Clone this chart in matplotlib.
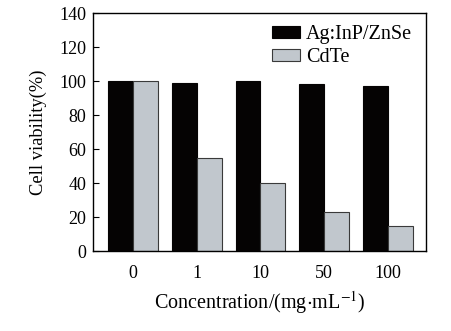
import matplotlib
matplotlib.use("Agg")
import matplotlib.pyplot as plt
import numpy as np

plt.rcParams['font.family'] = ['Liberation Serif', 'DejaVu Serif']
plt.rcParams['mathtext.fontset'] = 'stix'

concentrations = ['0', '1', '10', '50', '100']
ag_inp = [100, 99, 100, 98, 97]
cdte = [100, 55, 40, 23, 15]

x = np.arange(len(concentrations))
w = 0.39

fig = plt.figure(figsize=(4.51, 3.31), dpi=100)
ax = fig.add_axes([93/451, 1 - 251/331, 333/451, 238/331])

ax.bar(x - w/2, ag_inp, w, color='#050303', edgecolor='#050303', linewidth=0.8, label='Ag:InP/ZnSe')
ax.bar(x + w/2, cdte, w, color='#c1c7cd', edgecolor='#3a3a3a', linewidth=0.8, label='CdTe')

ax.set_xlim(-0.63, 4.6)
ax.set_ylim(0, 140)
ax.set_yticks(np.arange(0, 141, 20))
ax.set_xticks(x)
ax.set_xticklabels(concentrations)
ax.tick_params(axis='y', direction='in', length=4, width=0.8, labelsize=13, pad=5)
ax.tick_params(axis='x', length=0, labelsize=13, pad=10)
for s in ax.spines.values():
    s.set_linewidth(1.0)

ax.set_ylabel('Cell viability(%)', fontsize=13.3, labelpad=9)
ax.set_xlabel(r'Concentration/(mg$\cdot$mL$^{-1}$)', fontsize=14.5, labelpad=5)

ax.legend(loc='upper right', frameon=False, fontsize=14.5, handlelength=1.4, handleheight=0.5,
          handletextpad=0.3, labelspacing=0.2, borderaxespad=0.2, bbox_to_anchor=(0.995, 1.0))

fig.savefig('out.png', dpi=100)
